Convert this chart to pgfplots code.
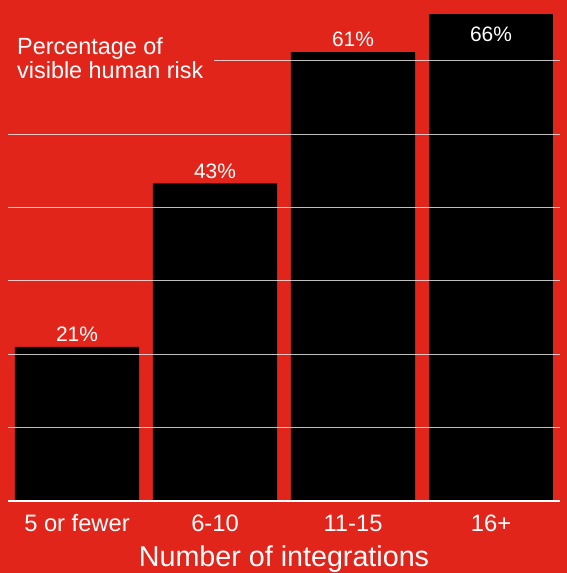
\documentclass[border=0pt]{standalone}
\usepackage{pgfplots}
\pgfplotsset{compat=1.18}
\usepackage{fontspec}
\setmainfont{Liberation Sans}
\definecolor{bgred}{RGB}{225,37,27}
\begin{document}
\begin{tikzpicture}
\fill[bgred] (0,0) rectangle (567bp,573bp);
\begin{axis}[
  at={(8bp,72bp)}, anchor=south west,
  scale only axis, width=552bp, height=501bp,
  xmin=-0.5, xmax=3.5, ymin=0, ymax=68.3,
  /pgf/number format/assume math mode=true,
  axis x line=bottom, axis y line=left,
  y axis line style={draw=none},
  x axis line style={white, line width=1.2bp, -},
  ytick={10,20,30,40,50,60}, yticklabels={},
  ytick style={draw=none}, xtick style={draw=none},
  ymajorgrids, grid style={white, opacity=0.75, line width=0.9bp},
  xtick={0,1,2,3}, xticklabels={5 or fewer,6-10,11-15,16+},
  xticklabel style={anchor=center, yshift=-18bp, font=\fontsize{23.8}{23.8}\selectfont, text=white},
  xlabel={Number of integrations},
  xlabel style={at={(axis description cs:0.5,0)}, anchor=center, yshift=-58bp, font=\fontsize{28.8}{28.8}\selectfont, text=white},
  axis on top,
  ybar, bar width=0.9, bar shift=0pt,
  nodes near coords={\pgfmathprintnumber[fixed,precision=0]{\pgfplotspointmeta}\%},
  every node near coord/.append style={font=\fontsize{21}{21}\selectfont, text=white, anchor=center},
]
\addplot[fill=black, draw=none, every node near coord/.append style={yshift=12.5bp}] coordinates {(0,21.0) (1,43.3) (2,61.2)};
\addplot[fill=black, draw=none, every node near coord/.append style={yshift=-20bp}] coordinates {(3,66.4)};
\end{axis}
\fill[bgred] (8bp,505bp) rectangle (214bp,520bp);
\node[anchor=north west, align=left, inner sep=0pt, text=white, font=\fontsize{23.5}{24}\selectfont] at (17bp,536bp) {Percentage of\\visible human risk};
\pgfresetboundingbox
\path (0,0) rectangle (567bp,573bp);
\end{tikzpicture}
\end{document}
